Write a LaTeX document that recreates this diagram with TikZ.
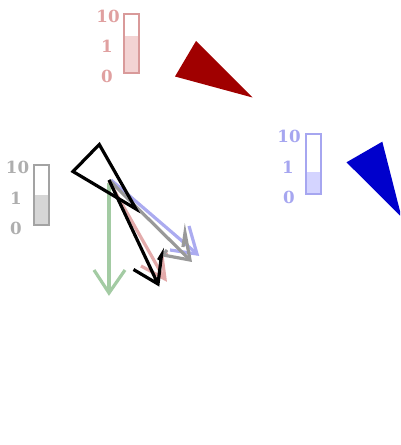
\documentclass[tikz,border=0pt]{standalone}
\usepackage{fontspec}
\newfontfamily\lblfont{DejaVu Serif}
\begin{document}
\begin{tikzpicture}[x=0.75pt,y=-0.75pt]
\definecolor{redlbl}{HTML}{E0A0A0}
\definecolor{redfill}{HTML}{F3D3D3}
\definecolor{redbord}{HTML}{D99A9A}
\definecolor{bluelbl}{HTML}{A6A6F0}
\definecolor{bluefill}{HTML}{D4D4FF}
\definecolor{bluebord}{HTML}{A6A6F0}
\definecolor{graylbl}{HTML}{AEAEAE}
\definecolor{grayfill}{HTML}{D6D6D6}
\definecolor{graybord}{HTML}{A3A3A3}
\definecolor{tri red}{HTML}{A00000}
\definecolor{tri blue}{HTML}{0000CC}
\definecolor{arrgreen}{HTML}{A3CBA3}
\definecolor{arrred}{HTML}{E3ABAB}
\definecolor{arrblue}{HTML}{ABABF0}
\definecolor{arrgray}{HTML}{999999}
\tikzset{
  lbl/.style={font=\lblfont\bfseries\fontsize{12.5}{13}\selectfont, inner sep=0pt, anchor=center},
  bar/.style={line width=1.4pt},
  quiv/.style={line width=2.4pt, line join=miter, line cap=butt},
}
\useasboundingbox (0,0) rectangle (400,445);
\clip (0,0) rectangle (400,445);

% red colorbar
\fill[redfill] (124,36) rectangle (139,73);
\draw[bar, redbord] (124,14) rectangle (139,73);
\node[lbl, text=redlbl] (r10) at (108,16) {10};
\node[lbl, text=redlbl] (r1) at (107,46) {1};
\node[lbl, text=redlbl] (r0) at (107,76) {0};

% blue colorbar
\fill[bluefill] (306,172) rectangle (321,194);
\draw[bar, bluebord] (306,134) rectangle (321,194);
\node[lbl, text=bluelbl] (b10) at (289,136) {10};
\node[lbl, text=bluelbl] (b1) at (288,167) {1};
\node[lbl, text=bluelbl] (b0) at (289,197) {0};

% gray colorbar
\fill[grayfill] (34,195) rectangle (49,225);
\draw[bar, graybord] (34,165) rectangle (49,225);
\node[lbl, text=graylbl] (g10) at (17.5,167) {10};
\node[lbl, text=graylbl] (g1) at (16,198) {1};
\node[lbl, text=graylbl] (g0) at (16,228) {0};

% filled triangles
\fill[tri red] (196,41) -- (175,76.5) -- (252.5,97.5) -- cycle;
\fill[tri blue] (346.5,162.3) -- (382.3,141.7) -- (401.5,217) -- cycle;

% arrows
\draw[quiv, arrgreen] (109,183) -- (109,293);
\draw[quiv, arrgreen] (94,270) -- (109,293) -- (125,270);

\draw[quiv, arrred] (109,181) -- (164,278);
\draw[quiv, arrred] (141,266) -- (165,279) -- (162,256) -- (168,254);

\draw[quiv, arrblue] (111,180) -- (196,253);
\draw[quiv, arrblue] (170,250) -- (197,254) -- (189,226);

\draw[quiv, arrgray] (109,180) -- (189,259);
\draw[quiv, arrgray] (167,250) -- (163,255) -- (190,260) -- (185,233) -- (183,247);

% black triangle and arrow
\draw[quiv, black] (73,171.5) -- (99.3,144.5) -- (136,209) -- cycle;
\draw[quiv, black] (109,180) -- (157.5,283);
\draw[quiv, black] (133.5,269.5) -- (158,284) -- (161.5,255) -- (158.5,260);
\end{tikzpicture}
\end{document}
